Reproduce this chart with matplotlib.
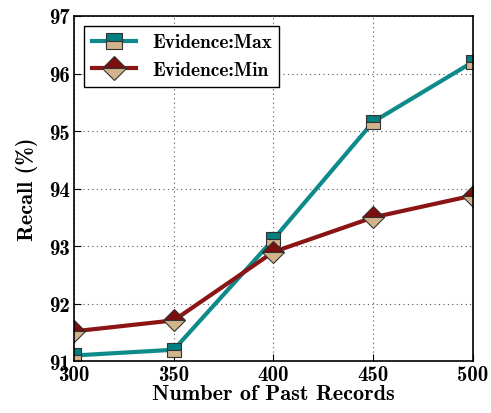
import matplotlib
matplotlib.use("Agg")
import matplotlib.pyplot as plt

x = [300, 350, 400, 450, 500]
recall_max = [91.1, 91.2, 93.12, 95.16, 96.2]
recall_min = [91.52, 91.71, 92.9, 93.5, 93.88]
xticks = [300, 350, 400, 450, 500]
yticks = [91, 92, 93, 94, 95, 96, 97]

font = "cmb10"
plt.rcParams["font.family"] = [font, "DejaVu Serif"]
plt.rcParams["font.size"] = 14

fig = plt.figure(figsize=(4.91, 4.14), dpi=100)
ax = fig.add_axes([0.151, 0.125, 0.812, 0.834])

tan = "#d2b48c"
ax.plot(x, recall_max, color="#0e8a8a", lw=3, marker="s", ms=10,
        fillstyle="top", mfc="#008080", mfcalt=tan, mec="#333333", mew=0.8,
        label="Evidence:Max", zorder=3)
ax.plot(x, recall_min, color="#8b1414", lw=3, marker="D", ms=11,
        fillstyle="top", mfc="#7a0f0f", mfcalt=tan, mec="#333333", mew=0.8,
        label="Evidence:Min", zorder=3)

ax.set_xlim(300, 500)
ax.set_ylim(91, 97)
ax.set_xticks(xticks)
ax.set_yticks(yticks)
ax.tick_params(direction="in", length=5, labelsize=15, pad=3)
ax.grid(True, linestyle=(0, (1, 3)), color="#555555", lw=0.8)
for s in ax.spines.values():
    s.set_linewidth(1.2)
    s.set_zorder(4)
ax.set_xlabel("Number of Past Records", fontsize=16, labelpad=0)
ax.set_ylabel("Recall (%)", fontsize=16, labelpad=8)

leg = ax.legend(loc="upper left", fontsize=14, fancybox=False,
                edgecolor="black", framealpha=1, handlelength=2.3,
                borderaxespad=0.5, markerscale=1.1)
leg.get_frame().set_linewidth(1.0)

fig.savefig("out.png", dpi=100)
